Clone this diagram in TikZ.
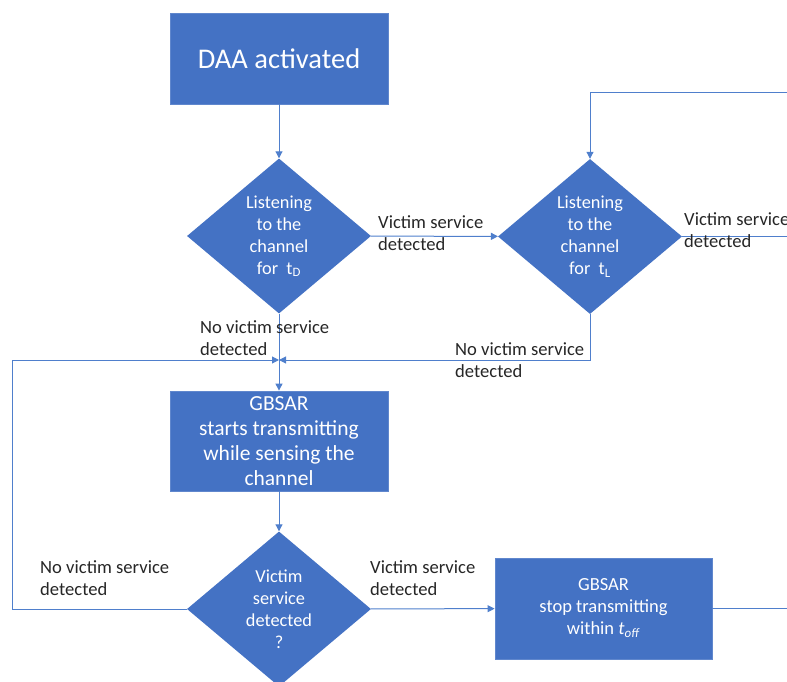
\documentclass[tikz,border=0pt]{standalone}
\usepackage{fontspec}
\setmainfont{Carlito}
\usetikzlibrary{shapes.geometric,arrows.meta,calc}
\definecolor{obl}{HTML}{4472C4}
\definecolor{lnc}{HTML}{4F7FCC}
\definecolor{txt}{HTML}{262626}
\begin{document}
\begin{tikzpicture}[x=1pt,y=-1pt,
  box/.style={draw=obl!85!white, fill=obl, line width=0.8pt, inner sep=0pt, text=white, align=center},
  dia/.style={diamond, fill=obl, inner sep=0pt, minimum width=184pt, minimum height=155pt},
  conn/.style={draw=lnc, line width=1pt},
  arr/.style={conn, -{Triangle[length=7pt,width=7pt]}},
  lbl/.style={text=txt, align=left, anchor=west, inner sep=0pt, font=\fontsize{18.6}{22}\selectfont},
  dtxt/.style={text=white, align=center, inner sep=0pt, font=\fontsize{18.3}{22}\selectfont}
]
\useasboundingbox (0,0) rectangle (787,682);

% nodes
\node[box, minimum width=218pt, minimum height=91pt, font=\fontsize{28.5}{32}\selectfont] (daa) at (279,58.5) {DAA activated};
\node[dia, label={[dtxt]center:Listening\\to the\\channel\\for~ t\textsubscript{D}}] (l1) at (279,236) {};
\node[dia, label={[dtxt]center:Listening\\to the\\channel\\for~ t\textsubscript{L}}] (l2) at (590,236.5) {};
\node[box, minimum width=218pt, minimum height=100pt, font=\fontsize{21.5}{25}\selectfont] (g) at (279,441) {GBSAR\\starts transmitting\\while sensing the\\channel};
\node[dia, label={[dtxt]center:Victim\\service\\detected\\?}] (v) at (279,609) {};
\node[box, minimum width=217pt, minimum height=101pt, font=\fontsize{18.5}{22}\selectfont] (s) at (603.5,608.5) {GBSAR\\stop transmitting\\within \textit{t}\textsubscript{\textit{off}}};

% free ends
\coordinate (r1) at (787,93);
\coordinate (r2) at (787,236.5);
\coordinate (r3) at (787,608.5);
\coordinate (j) at (279,360);
\coordinate (lc) at (12,360);

% connectors
\draw[arr] (daa) -- (l1);
\draw[arr] (l1) -- (l2);
\draw[conn] (l2.east) -- (r2);
\draw[arr] (r1) -| (l2.north);
\draw[arr] (l1.south) -- (g.north);
\draw[arr] (l2.south) |- (j);
\draw[arr] (v.west) -| (lc) -- (j);
\draw[arr] (g) -- (v);
\draw[arr] (v) -- (s);
\draw[conn] (s.east) -- (r3);

% connector labels
\node[lbl] (vs1) at (378,233) {Victim service\\detected};
\node[lbl] (vs2) at (684,230) {Victim service\\detected};
\node[lbl] (nv1) at (200,338.5) {No victim service\\detected};
\node[lbl] (nv2) at (455,360) {No victim service\\detected};
\node[lbl] (nv3) at (40,578) {No victim service\\detected};
\node[lbl] (vs3) at (370,578) {Victim service\\detected};
\end{tikzpicture}
\end{document}
